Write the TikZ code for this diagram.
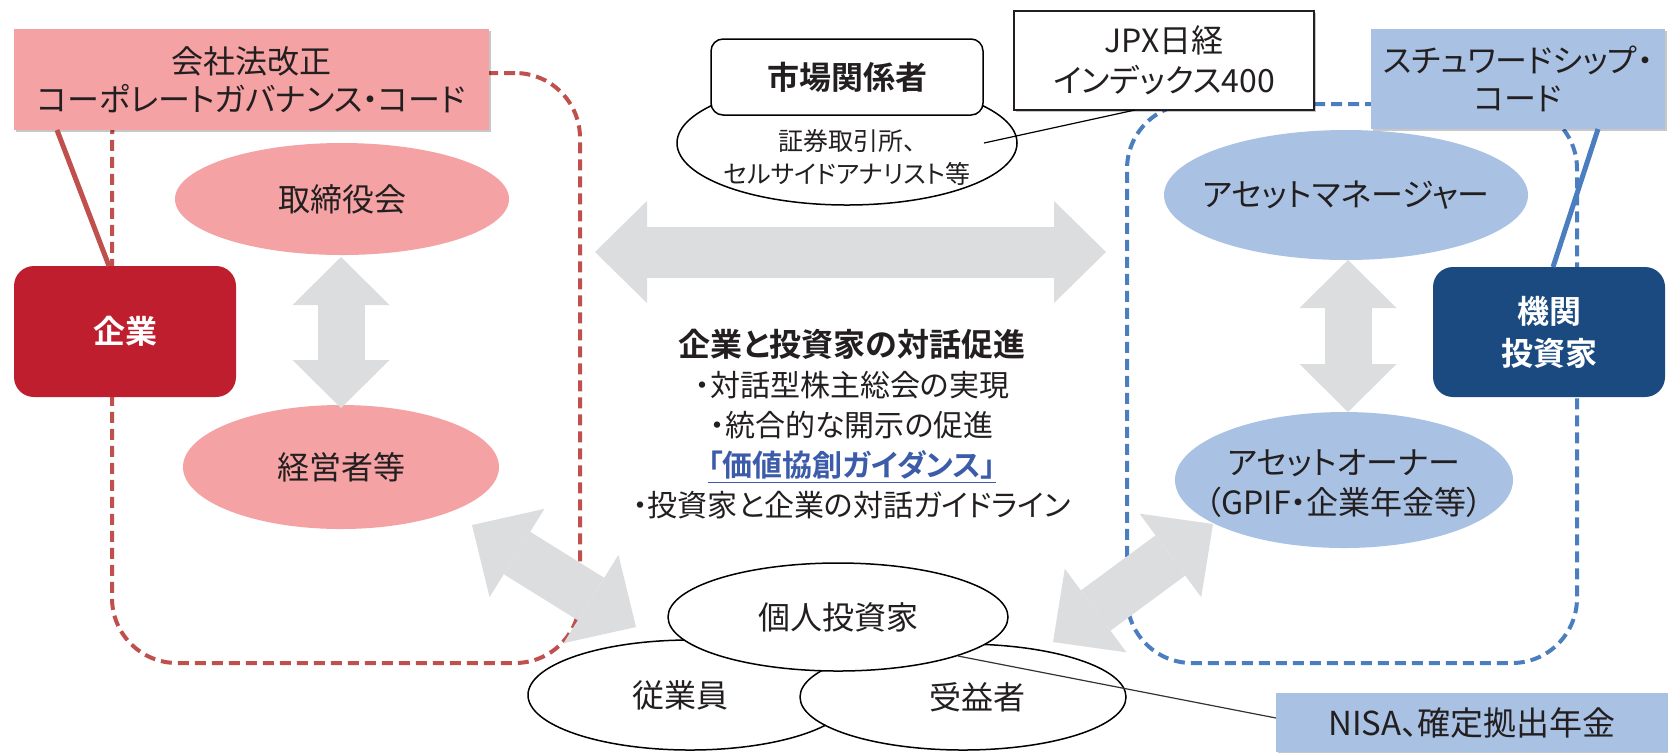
\documentclass[tikz,border=0pt]{standalone}
\usepackage{fontspec}
\setmainfont{Noto Sans CJK JP}[BoldFont={Noto Sans CJK JP Bold},RawFeature={+palt}]
\usetikzlibrary{shapes.geometric,arrows.meta,shadows}
\definecolor{pinkfill}{HTML}{F4A2A4}
\definecolor{darkred}{HTML}{BE1E2D}
\definecolor{redline}{HTML}{C0504D}
\definecolor{bluefill}{HTML}{A9C2E4}
\definecolor{navy}{HTML}{1A4A80}
\definecolor{blueline}{HTML}{4A7EBF}
\definecolor{arrowgray}{HTML}{DCDDDF}
\definecolor{txt}{HTML}{231F20}
\definecolor{linkblue}{HTML}{3C5CAA}
\begin{document}
\begin{tikzpicture}[x=0.5pt,y=-0.5pt,
  every node/.style={text=txt},
  f16/.style={font=\fontsize{16}{19}\selectfont},
  f16b/.style={font=\fontsize{16}{20}\selectfont\bfseries},
  ell/.style={ellipse, inner sep=-20pt, f16},
  pinkell/.style={ell, fill=pinkfill},
  blueell/.style={ell, fill=bluefill},
  whiteell/.style={ell, fill=white, draw=black, line width=0.75pt},
  sqbox/.style={rectangle, inner sep=0pt, align=center, f16},
  rbox/.style={rectangle, rounded corners=10pt, inner sep=0pt, align=center, f16b, text=white},
  shadowed/.style={drop shadow={shadow xshift=1.2pt, shadow yshift=-1.2pt, opacity=0.22, fill=black}},
  frame/.style={rectangle, rounded corners=32.5pt, line width=2pt, dash pattern=on 5.5pt off 3pt, inner sep=0pt},
  bigarrow/.style n args={3}{draw=arrowgray, line width=#1,
     arrows={Triangle[width=#2,length=#3,line width=0pt]-Triangle[width=#2,length=#3,line width=0pt]}},
  thinline/.style={draw=black, line width=0.6pt},
]
\useasboundingbox (0,0) rectangle (1668,752);

% dashed frames
\node[frame, draw=redline, minimum width=234pt, minimum height=295pt] (redframe) at (346,368) {};
\node[frame, draw=blueline, minimum width=225pt, minimum height=279.5pt] (blueframe) at (1352,383.5) {};

% top-left group
\node[sqbox, fill=pinkfill, minimum width=237.5pt, minimum height=50.5pt, shadowed] (kaisha) at (251.5,79.5) {会社法改正\\コーポレートガバナンス・コード};
\node[rbox, fill=darkred, minimum width=111pt, minimum height=65.5pt] (kigyo) at (125,331.5) {企業};
\coordinate (kaishaB) at (57,130);
\coordinate (kigyoT) at (109,266);
\draw[draw=redline, line width=2.5pt] (kaishaB) -- (kigyoT);

\node[pinkell, minimum width=167pt, minimum height=56pt] (torishimari) at (342,199) {取締役会};
\node[pinkell, minimum width=158pt, minimum height=62pt] (keiei) at (341,467) {経営者等};

% right group
\node[sqbox, fill=white, draw=txt, line width=0.6pt, minimum width=150pt, minimum height=49.5pt, shadowed] (jpx) at (1164,60.5) {JPX日経\\[1pt]インデックス400};
\node[sqbox, fill=bluefill, minimum width=147pt, minimum height=50pt, shadowed] (sw) at (1518,79) {スチュワードシップ・\\コード};
\node[rbox, fill=navy, minimum width=116pt, minimum height=65pt] (kikan) at (1549,332) {機関\\[1pt]投資家};
\coordinate (swB) at (1598,129);
\coordinate (kikanT) at (1553,267);
\draw[draw=blueline, line width=2.5pt] (swB) -- (kikanT);

\node[blueell, minimum width=182pt, minimum height=65pt] (manager) at (1346,195) {アセットマネージャー};
\node[blueell, minimum width=169pt, minimum height=68pt] (owner) at (1344,480) {};
\node[f16, align=center, font=\fontsize{16}{20}\selectfont] (ownertxt) at (1344,483) {アセットオーナー\\（GPIF・企業年金等）};

% market participants
\node[whiteell, minimum width=170pt, minimum height=62pt] (mktell) at (847,143) {};
\node[rectangle, rounded corners=6pt, draw=black, line width=0.75pt, fill=white, minimum width=136pt, minimum height=38pt, inner sep=0pt, f16b, text=txt] (mkt) at (847,77) {市場関係者};
\node[align=center, font=\fontsize{12.5}{16.5}\selectfont] (mkttxt) at (847,157) {証券取引所、\\セルサイドアナリスト等};
\coordinate (mktR) at (984,143);
\coordinate (jpxB) at (1135,110);
\draw[thinline] (mktR) -- (jpxB);

% big grey arrows
\coordinate (hL) at (595,252);
\coordinate (hR) at (1106,252);
\draw[bigarrow={25.5pt}{51pt}{26pt}] (hL) -- (hR);
\coordinate (vLt) at (341,257);
\coordinate (vLb) at (341,408);
\draw[bigarrow={23.5pt}{48.5pt}{24pt}] (vLt) -- (vLb);
\coordinate (vRt) at (1348,260);
\coordinate (vRb) at (1348,412);
\draw[bigarrow={23.5pt}{48.5pt}{24pt}] (vRt) -- (vRb);
\coordinate (dLa) at (472,525);
\coordinate (dLb) at (636,627);
\draw[bigarrow={25pt}{52pt}{26.5pt}] (dLa) -- (dLb);
\coordinate (dRa) at (1213,524);
\coordinate (dRb) at (1053,642);
\draw[bigarrow={25pt}{52pt}{26.5pt}] (dRa) -- (dRb);

% center text
\node[align=center, font=\fontsize{15}{20}\selectfont] (dialog) at (852,424)
 {{\fontsize{16}{20}\selectfont\bfseries 企業と投資家の対話促進}\\
  ・対話型株主総会の実現\\
  ・統合的な開示の促進\\
  {\color{linkblue}\bfseries\underline{「価値協創ガイダンス」}}\\
  ・投資家と企業の対話ガイドライン};

% bottom ellipses
\node[whiteell, minimum width=162pt, minimum height=55pt] (jugyoin) at (690,695) {\hspace*{-10pt}従業員};
\node[whiteell, minimum width=163pt, minimum height=53pt] (jueki) at (963,697) {\hspace*{14pt}受益者};
\node[whiteell, minimum width=170pt, minimum height=54pt] (kojin) at (838,617) {個人投資家};

% NISA
\node[sqbox, fill=bluefill, minimum width=196pt, minimum height=29.5pt, shadowed, font=\fontsize{16.5}{19}\selectfont] (nisa) at (1472,722.5) {NISA、確定拠出年金};
\coordinate (kojinR) at (958,656);
\coordinate (nisaL) at (1276,718);
\draw[thinline, draw=black!80] (kojinR) -- (nisaL);
\end{tikzpicture}
\end{document}
